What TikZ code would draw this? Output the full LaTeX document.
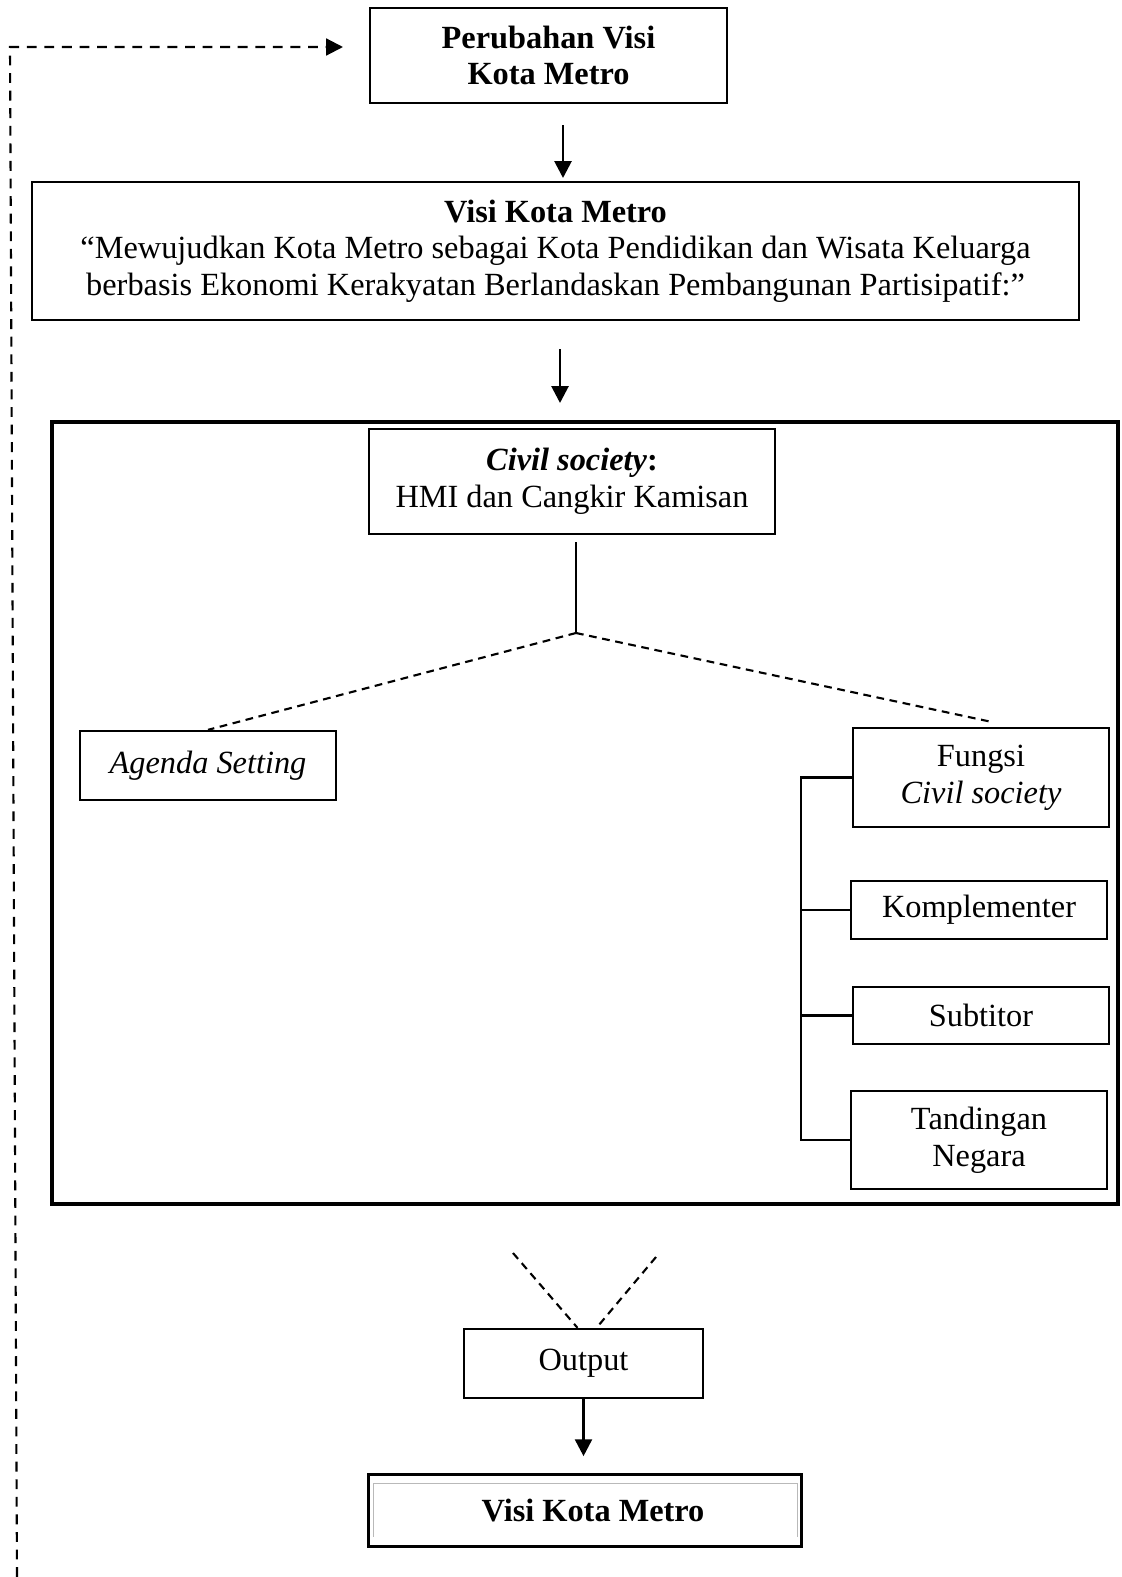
\documentclass[tikz,border=0pt]{standalone}
\usepackage{fontspec}
\setmainfont{Liberation Serif}
\usetikzlibrary{arrows.meta,calc}

\tikzset{
  kotak/.style={draw, line width=1.5pt, align=center, inner sep=0pt,
    font=\fontsize{23}{26}\selectfont},
  garis/.style={line width=1.7pt},
  putus/.style={line width=1.5pt, dash pattern=on 5.5pt off 4pt},
  panah/.style={line width=2pt, -{Triangle[length=12pt,width=12pt]}},
}

\begin{document}
\begin{tikzpicture}[x=0.025cm,y=-0.025cm]
    \useasboundingbox (0,0) rectangle (1121,1577);
    % kotak-kotak
    \node[kotak, minimum width=8.93cm, minimum height=2.38cm] (perubahan) at (548.5,55.5) {\textbf{Perubahan Visi}\\\textbf{Kota Metro}};
    \node[kotak, minimum width=26.18cm, minimum height=3.45cm] (visi) at (555.5,251) {\textbf{Visi Kota Metro}\\``Mewujudkan Kota Metro sebagai Kota Pendidikan dan Wisata Keluarga\\berbasis Ekonomi Kerakyatan Berlandaskan Pembangunan Partisipatif:''};
    \draw[line width=3pt] (52,422) rectangle (1118,1204);
    \node[kotak, minimum width=10.15cm, minimum height=2.63cm] (civil) at (572,481.5) {\textbf{\textit{Civil society}:}\\HMI dan Cangkir Kamisan};
    \node[kotak, minimum width=6.4cm, minimum height=1.73cm] (agenda) at (208,765.5) {\textit{Agenda Setting}};
    \node[kotak, minimum width=6.4cm, minimum height=2.48cm] (fungsi) at (981,777.5) {Fungsi\\\textit{Civil society}};
    \node[kotak, minimum width=6.4cm, minimum height=1.45cm] (komplementer) at (979,910) {Komplementer};
    \node[kotak, minimum width=6.4cm, minimum height=1.43cm] (subtitor) at (981,1015.5) {Subtitor};
    \node[kotak, minimum width=6.4cm, minimum height=2.45cm] (tandingan) at (979,1140) {Tandingan\\Negara};
    \node[kotak, minimum width=5.98cm, minimum height=1.73cm] (output) at (583.5,1363.5) {Output};
    \node[kotak, line width=2.2pt, minimum width=10.8cm, minimum height=1.78cm] (akhir) at (585,1510.5) {\hspace{0.4cm}\textbf{Visi Kota Metro}};
    \draw[gray!55, line width=1.2pt] ($(akhir.south west)+(6,-11)$) |- ($(akhir.north east)+(-5,10)$) -- ($(akhir.south east)+(-5,-11)$);

    % panah turun
    \coordinate (p1a) at (563,125);
    \coordinate (p1b) at (563,178);
    \coordinate (p2a) at (560,349);
    \coordinate (p2b) at (560,403);
    \draw[panah] (p1a) -- (p1b);
    \draw[panah] (p2a) -- (p2b);
    \draw[panah] (output.south) -- ($(output.south)+(0,57)$);

    % cabang civil society
    \coordinate (batang) at (576,542);
    \coordinate (cabang) at (576,633);
    \coordinate (ujungkanan) at (992,722);
    \draw[garis] (batang) -- (cabang);
    \draw[putus] (cabang) -- (agenda.north);
    \draw[putus] (cabang) -- (ujungkanan);

    % fungsi civil society
    \coordinate (siku) at (801,777.5);
    \draw[garis] (fungsi.west) -- (siku) |- (tandingan.west);
    \draw[garis] (komplementer.west) -- (komplementer.west -| siku);
    \draw[garis] (subtitor.west) -- (subtitor.west -| siku);

    % menuju output
    \coordinate (vkiri) at (513,1253);
    \coordinate (vkanan) at (656,1257);
    \draw[putus] (vkiri) -- ($(output.north)+(-6,0)$);
    \draw[putus] (vkanan) -- ($(output.north)+(13,0)$);

    % umpan balik
    \coordinate (balikbawah) at (17,1577);
    \coordinate (balikatas) at (10,47);
    \coordinate (balikujung) at (343,47);
    \draw[line width=1.5pt, dash pattern=on 7pt off 5.5pt, -{Triangle[length=12pt,width=12pt]}] (balikbawah) -- (balikatas) -- (balikujung);
\end{tikzpicture}
\end{document}
